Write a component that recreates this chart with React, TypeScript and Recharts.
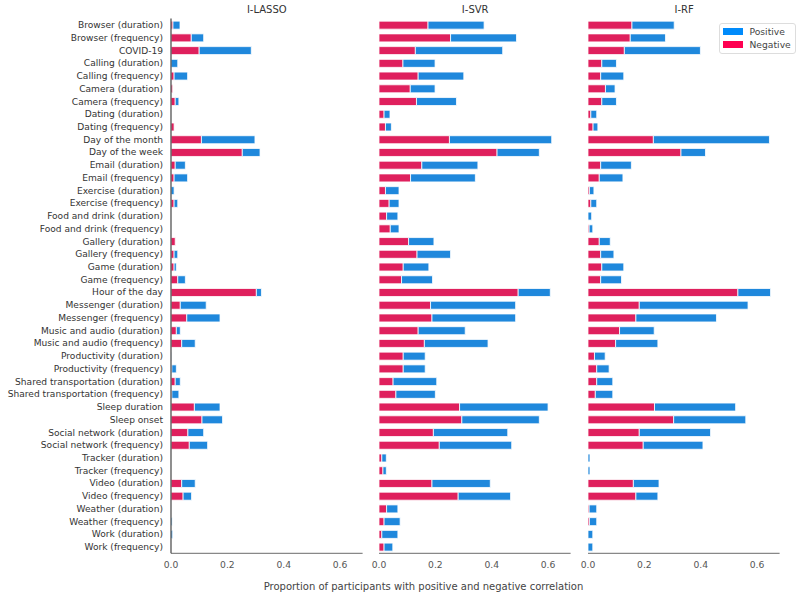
import React from 'react';
import { BarChart, Bar, XAxis, YAxis } from 'recharts';

const categories = [
  'Browser (duration)',
  'Browser (frequency)',
  'COVID-19',
  'Calling (duration)',
  'Calling (frequency)',
  'Camera (duration)',
  'Camera (frequency)',
  'Dating (duration)',
  'Dating (frequency)',
  'Day of the month',
  'Day of the week',
  'Email (duration)',
  'Email (frequency)',
  'Exercise (duration)',
  'Exercise (frequency)',
  'Food and drink (duration)',
  'Food and drink (frequency)',
  'Gallery (duration)',
  'Gallery (frequency)',
  'Game (duration)',
  'Game (frequency)',
  'Hour of the day',
  'Messenger (duration)',
  'Messenger (frequency)',
  'Music and audio (duration)',
  'Music and audio (frequency)',
  'Productivity (duration)',
  'Productivity (frequency)',
  'Shared transportation (duration)',
  'Shared transportation (frequency)',
  'Sleep duration',
  'Sleep onset',
  'Social network (duration)',
  'Social network (frequency)',
  'Tracker (duration)',
  'Tracker (frequency)',
  'Video (duration)',
  'Video (frequency)',
  'Weather (duration)',
  'Weather (frequency)',
  'Work (duration)',
  'Work (frequency)',
];

const lassoNegative = [
  0.007, 0.072, 0.1, 0, 0.011, 0.006, 0.015, 0, 0.011, 0.108, 0.253, 0.015, 0.011, 0, 0.011, 0, 0, 0.015, 0.011,
  0.011, 0.024, 0.303, 0.033, 0.056, 0.019, 0.038, 0, 0.003, 0.015, 0.003, 0.083, 0.11, 0.06, 0.065, 0, 0, 0.038,
  0.043, 0, 0, 0, 0,
];
const lassoPositive = [
  0.025, 0.044, 0.185, 0.024, 0.048, 0, 0.013, 0, 0, 0.19, 0.063, 0.036, 0.048, 0.011, 0.013, 0, 0, 0, 0.013, 0.008,
  0.027, 0.018, 0.092, 0.118, 0.014, 0.048, 0.002, 0.016, 0.018, 0.025, 0.091, 0.073, 0.056, 0.065, 0, 0, 0.048, 0.03,
  0, 0.004, 0.006, 0,
];

const svrNegative = [
  0.174, 0.254, 0.129, 0.085, 0.139, 0.111, 0.133, 0.018, 0.023, 0.25, 0.419, 0.152, 0.112, 0.023, 0.036, 0.027, 0.04,
  0.105, 0.135, 0.086, 0.08, 0.494, 0.183, 0.188, 0.139, 0.161, 0.086, 0.086, 0.05, 0.06, 0.286, 0.294, 0.193, 0.214,
  0.01, 0.014, 0.188, 0.281, 0.027, 0.018, 0.01, 0.018,
];
const svrPositive = [
  0.199, 0.234, 0.31, 0.114, 0.162, 0.088, 0.142, 0.021, 0.021, 0.363, 0.15, 0.199, 0.23, 0.048, 0.035, 0.04, 0.031,
  0.09, 0.119, 0.091, 0.11, 0.114, 0.302, 0.297, 0.167, 0.226, 0.078, 0.078, 0.155, 0.14, 0.314, 0.275, 0.264, 0.257,
  0.016, 0.012, 0.207, 0.186, 0.04, 0.057, 0.057, 0.031,
];

const rfNegative = [
  0.156, 0.15, 0.129, 0.049, 0.045, 0.062, 0.049, 0.01, 0.018, 0.232, 0.33, 0.045, 0.04, 0.005, 0.01, 0, 0.004, 0.04,
  0.045, 0.049, 0.045, 0.532, 0.182, 0.17, 0.112, 0.098, 0.023, 0.031, 0.031, 0.026, 0.236, 0.304, 0.182, 0.196, 0, 0,
  0.161, 0.17, 0.004, 0.005, 0, 0,
];
const rfPositive = [
  0.15, 0.125, 0.27, 0.052, 0.082, 0.034, 0.052, 0.021, 0.017, 0.412, 0.087, 0.109, 0.084, 0.016, 0.021, 0.013, 0.013,
  0.039, 0.047, 0.078, 0.074, 0.116, 0.386, 0.286, 0.123, 0.15, 0.038, 0.044, 0.057, 0.062, 0.288, 0.256, 0.253, 0.212,
  0.007, 0.007, 0.091, 0.078, 0.027, 0.026, 0.017, 0.017,
];

const xTicks = [0, 0.2, 0.4, 0.6];

const FONT = '"DejaVu Sans", Verdana, sans-serif';
const NEG_COLOR = '#df205d';
const POS_COLOR = '#1f88dc';

const PLOT_W = 191.6;
const PLOT_TOP = 18.6;
const PLOT_BOTTOM = 553.3;
const HEIGHT = 599;
const LABEL_W = 171;

// single-line category label (the default tick wraps long names)
const CategoryTick = (props: any) => {
  const { x, y, payload } = props;
  return (
    <text x={x} y={y} dy="0.35em" textAnchor="end" fontSize={9.1} fill="#333" fontFamily={FONT}>
      {payload.value}
    </text>
  );
};

interface PanelProps {
  title: string;
  negative: number[];
  positive: number[];
  plotLeft: number;
  showLabels?: boolean;
}

const Panel: React.FC<PanelProps> = ({ title, negative, positive, plotLeft, showLabels = false }) => {
  const data = categories.map((name, i) => ({ name, Negative: negative[i], Positive: positive[i] }));
  const yWidth = showLabels ? LABEL_W : 0;
  const padL = showLabels ? 0 : 14;
  const padR = 14;
  const width = yWidth + padL + PLOT_W + padR;

  return (
    <>
      <div
        style={{
          position: 'absolute',
          left: plotLeft,
          width: PLOT_W,
          top: 4,
          textAlign: 'center',
          fontSize: 10,
          color: '#333',
          fontFamily: FONT,
        }}
      >
        {title}
      </div>
      <div style={{ position: 'absolute', left: plotLeft - yWidth - padL, top: 0 }}>
        <BarChart
          width={width}
          height={HEIGHT}
          data={data}
          layout="vertical"
          barCategoryGap="20%"
          margin={{ top: PLOT_TOP, right: padR, left: padL, bottom: HEIGHT - PLOT_BOTTOM - 30 }}
        >
          <XAxis
            type="number"
            domain={[0, 0.68]}
            ticks={xTicks}
            tickFormatter={(v: number) => v.toFixed(1)}
            tickLine={false}
            axisLine={{ stroke: '#888', strokeWidth: 1.3 }}
            tick={{ fontSize: 9.2, fill: '#555', fontFamily: FONT }}
            height={30}
          />
          <YAxis
            type="category"
            dataKey="name"
            width={yWidth}
            interval={0}
            tickLine={false}
            tick={showLabels ? <CategoryTick /> : false}
            axisLine={{ stroke: '#444', strokeWidth: 1.2 }}
          />
          <Bar dataKey="Negative" stackId="a" fill={NEG_COLOR} stroke="#fff" strokeWidth={0.8} isAnimationActive={false} />
          <Bar dataKey="Positive" stackId="a" fill={POS_COLOR} stroke="#fff" strokeWidth={0.8} isAnimationActive={false} />
        </BarChart>
      </div>
    </>
  );
};

const legendItems = [
  { label: 'Positive', color: '#008bfb' },
  { label: 'Negative', color: '#ff0051' },
];

const LegendBox: React.FC = () => (
  <div
    style={{
      position: 'absolute',
      left: 719,
      top: 22.5,
      width: 75,
      height: 29,
      border: '1px solid #ddd',
      borderRadius: 3,
      background: 'rgba(255,255,255,0.85)',
      fontFamily: FONT,
      fontSize: 9.2,
      color: '#444',
      whiteSpace: 'nowrap',
    }}
  >
    {legendItems.map((item, i) => (
      <div key={item.label}>
        <span
          style={{
            position: 'absolute',
            left: 3,
            top: 4.5 + i * 13.3,
            width: 19.5,
            height: 7,
            background: item.color,
          }}
        />
        <span style={{ position: 'absolute', left: 29.5, top: 1.5 + i * 13.3, lineHeight: '13px' }}>{item.label}</span>
      </div>
    ))}
  </div>
);

export default function App() {
  return (
    <div
      style={{
        position: 'absolute',
        left: 0,
        top: 0,
        width: 800,
        height: 599,
        background: '#fff',
        fontFamily: FONT,
        overflow: 'hidden',
      }}
    >
      <Panel title="I-LASSO" negative={lassoNegative} positive={lassoPositive} plotLeft={LABEL_W} showLabels />
      <Panel title="I-SVR" negative={svrNegative} positive={svrPositive} plotLeft={379.4} />
      <Panel title="I-RF" negative={rfNegative} positive={rfPositive} plotLeft={588.3} />
      <LegendBox />
      <div
        style={{
          position: 'absolute',
          left: 0,
          width: 847,
          top: 580.5,
          textAlign: 'center',
          fontSize: 10,
          color: '#444',
          fontFamily: FONT,
          whiteSpace: 'nowrap',
        }}
      >
        Proportion of participants with positive and negative correlation
      </div>
    </div>
  );
}
